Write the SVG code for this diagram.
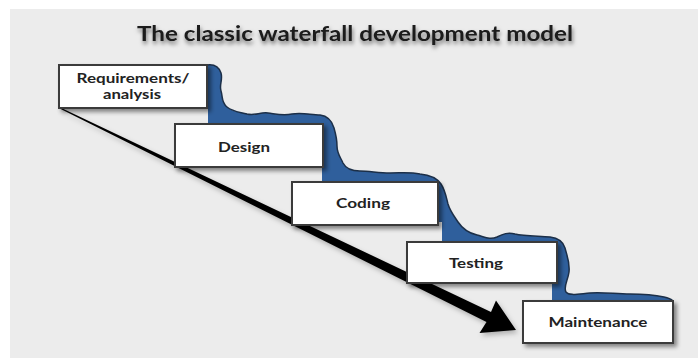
<svg xmlns="http://www.w3.org/2000/svg" width="699" height="358" viewBox="0 0 699 358">
  <defs>
    <filter id="boxShadow" x="-10%" y="-20%" width="130%" height="160%">
      <feDropShadow dx="3" dy="3" stdDeviation="2" flood-color="#000" flood-opacity="0.45"/>
    </filter>
    <filter id="titleShadow" x="-5%" y="-40%" width="110%" height="200%">
      <feDropShadow dx="1" dy="3" stdDeviation="2" flood-color="#000" flood-opacity="0.55"/>
    </filter>
    <filter id="arrowShadow" x="-5%" y="-10%" width="110%" height="130%">
      <feDropShadow dx="2" dy="3" stdDeviation="2.5" flood-color="#000" flood-opacity="0.25"/>
    </filter>
  </defs>
  <style>
    .box { fill: #ffffff; stroke: #3a3a3a; stroke-width: 2; filter: url(#boxShadow); }
    .label { font-family: Lato, "Liberation Sans", sans-serif; font-weight: 700; font-size: 13px; fill: #222222; text-anchor: middle; }
    .title { font-family: Lato, "Liberation Sans", sans-serif; font-weight: 700; font-size: 20px; fill: #1a1a1a; filter: url(#titleShadow); }
    .water { fill: #2f5f9c; stroke: none; }
    .waterEdge { fill: none; stroke: #1c2f48; stroke-width: 1.5; stroke-linejoin: round; }
    .arrow { fill: #000000; filter: url(#arrowShadow); }
  </style>

  <!-- page background -->
  <rect x="0" y="0" width="699" height="358" fill="#ffffff"/>
  <rect x="10" y="9" width="688" height="349" fill="#ececec"/>

  <text class="title" x="137" y="41" textLength="436" lengthAdjust="spacingAndGlyphs">The classic waterfall development model</text>

  <!-- water cascading down the steps -->
  <g id="waterfall">
    <path class="water" d="M207,65 C214,64 219,67 221,73 C223,80 219,85 221,91 C223,97 221,102 227,107 C233,112 240,112 247,114 C255,116 260,112 268,113 C276,114 283,116 292,114 C302,112 311,115 320,115 C328,116 332,121 334,128 C336,135 337,140 337,146 C337,154 341,158 343,163 C346,169 352,171 360,171 C370,171 378,173 390,173 C402,173 410,172 420,174 C430,175 437,178 441,184 C445,190 446,196 448,204 C450,211 454,216 458,222 C462,228 468,233 477,235 C485,237 490,240 497,237 C503,234 508,232 515,234 C524,236 538,236 550,237 C558,238 563,241 565,248 C567,256 570,262 569,272 C568,280 563,287 566,292 C569,296 578,294 590,293 C604,292 615,294 630,294 C645,294 655,295 664,297 C669,298 672,300 673,301 L673,305 L552,305 L552,280 L442,280 L442,222 L322,222 L322,164 L208,164 L208,66 Z"/>
    <path class="waterEdge" d="M207,65 C214,64 219,67 221,73 C223,80 219,85 221,91 C223,97 221,102 227,107 C233,112 240,112 247,114 C255,116 260,112 268,113 C276,114 283,116 292,114 C302,112 311,115 320,115 C328,116 332,121 334,128 C336,135 337,140 337,146 C337,154 341,158 343,163 C346,169 352,171 360,171 C370,171 378,173 390,173 C402,173 410,172 420,174 C430,175 437,178 441,184 C445,190 446,196 448,204 C450,211 454,216 458,222 C462,228 468,233 477,235 C485,237 490,240 497,237 C503,234 508,232 515,234 C524,236 538,236 550,237 C558,238 563,241 565,248 C567,256 570,262 569,272 C568,280 563,287 566,292 C569,296 578,294 590,293 C604,292 615,294 630,294 C645,294 655,295 664,297 C669,298 672,300 673,301"/>
  </g>

  <!-- connector: tapering arrow from requirements to maintenance -->
  <g id="connectors">
    <polygon class="arrow" points="60.3,107.4 491,312 496,300.5 516,330 479.5,333 486.5,322 59.7,108.6"/>
  </g>

  <g id="requirements">
    <rect class="box" x="59" y="65" width="148" height="43"/>
    <text class="label" x="133" y="82.5" textLength="113" lengthAdjust="spacingAndGlyphs">Requirements/</text>
    <text class="label" x="132" y="98.5" textLength="58" lengthAdjust="spacingAndGlyphs">analysis</text>
  </g>

  <g id="design">
    <rect class="box" x="175" y="124" width="148" height="43"/>
    <text class="label" x="244" y="152" textLength="52" lengthAdjust="spacingAndGlyphs">Design</text>
  </g>

  <g id="coding">
    <rect class="box" x="292" y="182" width="146" height="43"/>
    <text class="label" x="363" y="208" textLength="54" lengthAdjust="spacingAndGlyphs">Coding</text>
  </g>

  <g id="testing">
    <rect class="box" x="407" y="242" width="150" height="41"/>
    <text class="label" x="476" y="268" textLength="54" lengthAdjust="spacingAndGlyphs">Testing</text>
  </g>

  <g id="maintenance">
    <rect class="box" x="523" y="301" width="150" height="42"/>
    <text class="label" x="598" y="327" textLength="99" lengthAdjust="spacingAndGlyphs">Maintenance</text>
  </g>
</svg>
